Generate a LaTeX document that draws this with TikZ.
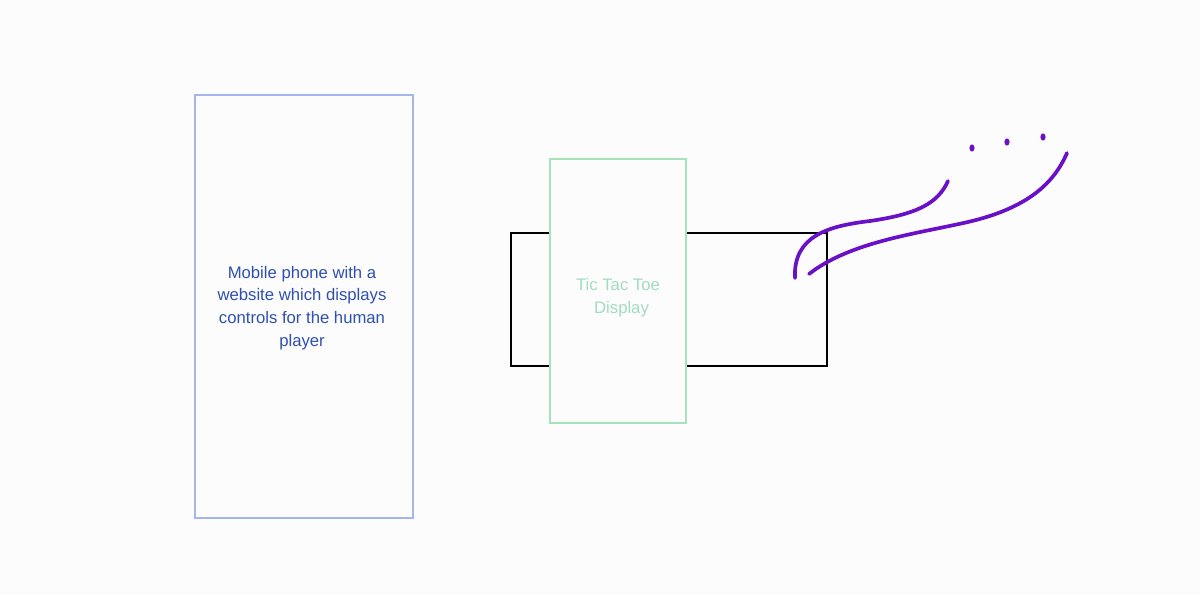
\documentclass[tikz,border=0pt]{standalone}
\usepackage{fontspec}
\setmainfont{Liberation Sans}
\usepackage{tikz}

\definecolor{bgcol}{HTML}{FCFCFC}
\definecolor{phoneline}{HTML}{A3B6EE}
\definecolor{phonetext}{HTML}{2F50B0}
\definecolor{displine}{HTML}{A6E2BC}
\definecolor{disptext}{HTML}{A2DCBE}
\definecolor{wave}{HTML}{6A10C8}

\begin{document}
\begin{tikzpicture}[x=0.02cm,y=-0.02cm,
        label text/.style={align=center,font=\fontsize{9.5}{12.9}\selectfont},
        wave line/.style={draw=wave,line width=2.1pt,line cap=round}]
        \fill[bgcol] (0,0) rectangle (1200,595);
        \useasboundingbox (0,0) rectangle (1200,595);
        \node[draw=phoneline,line width=1.1pt,minimum width=4.36cm,minimum height=8.46cm] (P) at (304,306.5) {};
        \node[label text,text=phonetext] (PT) at (302,308) {Mobile phone with a\\website which displays\\controls for the human\\player};
        \node[draw=black,line width=1pt,minimum width=6.32cm,minimum height=2.66cm] (B) at (669,299.5) {};
        \node[draw=displine,fill=bgcol,line width=1.1pt,minimum width=2.72cm,minimum height=5.28cm] (D) at (618,291) {};
        \node[label text,text=disptext] (DT) at (618,298) {Tic Tac Toe\\\hspace{4pt}Display};
        \draw[wave line] (795,278) .. controls (793,236) and (828,226) .. (870,221) .. controls (918,214) and (938,203) .. (948,181);
        \draw[wave line] (809,274) .. controls (850,242) and (915,234) .. (968,222) .. controls (1028,208) and (1054,183) .. (1067,153);
        \foreach \dx/\dy in {972/148, 1007/142, 1043/137}
            \fill[wave] (\dx,\dy) ellipse (2.6 and 3.6);
    \end{tikzpicture}
\end{document}
